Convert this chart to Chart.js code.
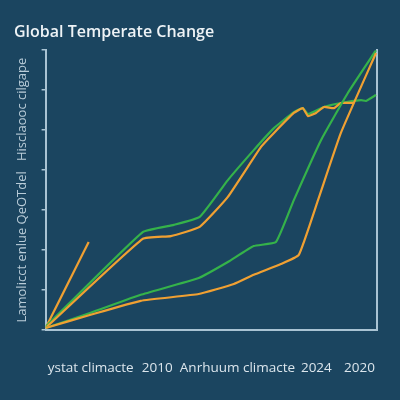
<!DOCTYPE html>
<html>
<head>
<meta charset="utf-8">
<script src="https://cdn.jsdelivr.net/npm/chart.js@4"></script>
<style>
  html, body { margin: 0; padding: 0; background: #1b4560; }
  #wrap { width: 400px; height: 400px; }
</style>
</head>
<body>
<div id="wrap"><canvas id="tempChart" width="400" height="400"></canvas></div>
<script>
// tick labels along the bottom and where they sit (x from 0 to 100)
const xTickLabels = ['ystat climacte', '2010', 'Anrhuum climacte', '2024', '2020'];
const xTickPos = [13.6, 33.7, 57.9, 81.7, 94.7];

// short orange spike
const spikeX = [0, 13];
const spikeY = [0.05, 2.2];

// upper pair of series
const upperGreenX = [0, 29.3, 38.7, 46.5, 55.0, 62.8, 68.9, 74.9, 77.6, 79.2, 84.0, 89.1, 95.2, 96.7, 99.7];
const upperGreenY = [0.08, 2.45, 2.63, 2.83, 3.75, 4.5, 5.05, 5.45, 5.55, 5.4, 5.58, 5.68, 5.75, 5.73, 5.88];
const upperOrangeX = [0, 29.3, 37.8, 46.5, 55.0, 65.0, 68.9, 74.9, 77.6, 79.2, 81.6, 84.0, 87.0, 89.1, 93.1];
const upperOrangeY = [0.05, 2.28, 2.35, 2.58, 3.33, 4.58, 4.93, 5.43, 5.55, 5.35, 5.43, 5.58, 5.55, 5.68, 5.68];

// lower pair of series
const lowerGreenX = [0, 13.6, 28.7, 46.2, 55.0, 62.8, 69.5, 74.9, 83.1, 91.2, 99.7];
const lowerGreenY = [0.05, 0.43, 0.88, 1.3, 1.7, 2.1, 2.2, 3.25, 4.75, 5.93, 7.0];
const lowerOrangeX = [0, 13.6, 28.7, 46.2, 56.8, 62.8, 71.0, 76.4, 82.2, 89.1, 99.7];
const lowerOrangeY = [0.05, 0.38, 0.73, 0.9, 1.15, 1.38, 1.65, 1.88, 3.25, 4.93, 6.93];

const GREEN = '#35b24a';
const ORANGE = '#f0a032';
const AXIS = '#a9c3d3';

function toPoints(xs, ys) {
    return xs.map((x, i) => ({ x: x, y: ys[i] }));
}

function line(label, xs, ys, color) {
    return {
        label: label,
        data: toPoints(xs, ys),
        borderColor: color,
        backgroundColor: color,
        borderWidth: 2.2,
        pointRadius: 0,
        tension: 0.12,
        fill: false
    };
}

Chart.defaults.font.family = '"Open Sans", "DejaVu Sans", sans-serif';

new Chart(document.getElementById('tempChart').getContext('2d'), {
    type: 'line',
    data: {
        datasets: [
            line('lower orange', lowerOrangeX, lowerOrangeY, ORANGE),
            line('lower green', lowerGreenX, lowerGreenY, GREEN),
            line('upper orange', upperOrangeX, upperOrangeY, ORANGE),
            line('upper green', upperGreenX, upperGreenY, GREEN),
            line('spike', spikeX, spikeY, ORANGE)
        ]
    },
    options: {
        responsive: false,
        animation: false,
        layout: { padding: { left: 14, right: 23, top: 15, bottom: 0 } },
        plugins: {
            legend: { display: false },
            tooltip: { enabled: false },
            title: {
                display: true,
                text: 'Global Temperate Change',
                align: 'start',
                color: '#eef3f6',
                font: { size: 16, weight: 600 },
                padding: { top: 8, bottom: 8 }
            }
        },
        scales: {
            x: {
                type: 'linear',
                min: 0,
                max: 100,
                afterBuildTicks: axis => {
                    axis.ticks = xTickPos.map(v => ({ value: v }));
                },
                afterFit: axis => {
                    axis.height = 70;
                    axis.paddingLeft = 0;
                    axis.paddingRight = 0;
                },
                ticks: {
                    autoSkip: false,
                    maxRotation: 0,
                    color: '#dbe5ec',
                    font: { size: 13.5 },
                    padding: 30,
                    callback: (value, index) => xTickLabels[index]
                },
                grid: { display: true, drawOnChartArea: false, drawTicks: false },
                border: { display: true, color: AXIS, width: 2 }
            },
            y: {
                min: 0,
                max: 7,
                ticks: {
                    stepSize: 1,
                    padding: 0,
                    callback: () => ''
                },
                grid: { drawOnChartArea: false, drawTicks: true, tickLength: 4, color: AXIS, lineWidth: 1.5 },
                border: { display: true, color: AXIS, width: 2 },
                title: {
                    display: true,
                    text: 'Lamolicct enlue QeOTdel   Hisclaooc cilgape',
                    color: '#b9ccd8',
                    font: { size: 13 },
                    padding: { top: 0, bottom: 12 }
                }
            },
            yRight: {
                position: 'right',
                min: 0,
                max: 7,
                ticks: { display: false },
                grid: { drawOnChartArea: false, drawTicks: false },
                border: { display: true, color: AXIS, width: 2 }
            }
        }
    }
});
</script>
</body>
</html>
